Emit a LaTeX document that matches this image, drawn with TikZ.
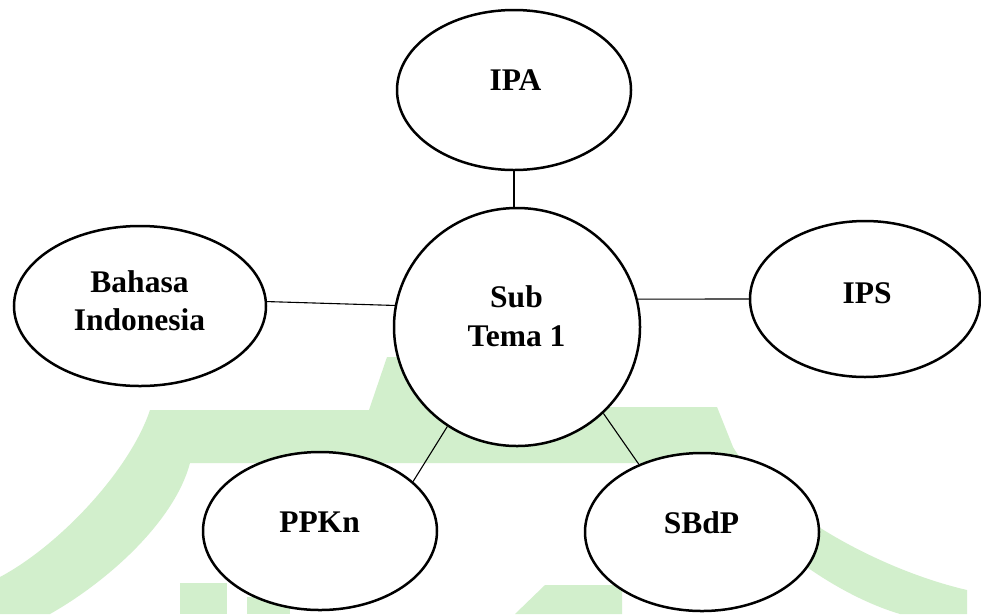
\documentclass[tikz,border=0pt]{standalone}
\usepackage{fontspec}
\setmainfont{Liberation Serif}
\usetikzlibrary{shapes.geometric}
\definecolor{wmgreen}{RGB}{210,239,204}
\begin{document}
\begin{tikzpicture}[x=1pt,y=-1pt,
  bubble/.style={ellipse, draw=black, line width=2.5pt, fill=white, inner sep=0pt},
  caption/.style={font=\fontsize{31.5}{38.5}\selectfont\bfseries, align=center, inner sep=0pt},
  link/.style={draw=black, line width=1.1pt},
  wm/.style={fill=wmgreen, draw=none}]
\useasboundingbox (0,0) rectangle (981,614);
\fill[white] (0,0) rectangle (981,614);

% faint background emblem
\path[wm] (0,577) .. controls (60,545) and (130,470) .. (150,410)
  -- (369,410) -- (387,357) -- (590,357) -- (590,407) -- (717,407) -- (733,447)
  .. controls (770,510) and (880,570) .. (967,590)
  -- (967,614) -- (900,614)
  .. controls (820,590) and (740,520) .. (700,463)
  -- (190,463)
  .. controls (175,520) and (110,580) .. (50,614)
  -- (0,614) -- cycle;
\path[wm] (180,583) rectangle (227,614);
\path[wm] (247,597) rectangle (290,614);
\path[wm] (515,614) -- (545,585) -- (622,585) -- (622,614) -- cycle;

% topic bubbles
\node[bubble, minimum width=246pt, minimum height=238pt] (sub)  at (517,327) {};
\node[bubble, minimum width=234pt, minimum height=160pt] (ipa)  at (514,90)  {};
\node[bubble, minimum width=252pt, minimum height=160pt] (bi)   at (140,306) {};
\node[bubble, minimum width=230pt, minimum height=156pt] (ips)  at (865,299) {};
\node[bubble, minimum width=234pt, minimum height=158pt] (ppkn) at (320,531) {};
\node[bubble, minimum width=234pt, minimum height=158pt] (sbdp) at (702,532) {};

% labels
\node[caption] (sub-t)  at (516.5,316) {Sub\\Tema 1};
\node[caption] (ipa-t)  at (515.5,80.5) {IPA};
\node[caption] (bi-t)   at (139.5,300.5) {Bahasa\\Indonesia};
\node[caption] (ips-t)  at (867,293) {IPS};
\node[caption] (ppkn-t) at (319.5,522.5) {PPKn};
\node[caption] (sbdp-t) at (701.5,522.5) {SBdP};

% connectors
\draw[link] (ipa.south) -- (sub.north -| ipa.south);
\draw[link] (bi.2) -- (sub.170);
\draw[link] (sub.13) -- (ips.180);
\draw[link] (sub.235.4) -- (ppkn.28.8);
\draw[link] (sub.-45.3) -- (sbdp.133);
\end{tikzpicture}
\end{document}
